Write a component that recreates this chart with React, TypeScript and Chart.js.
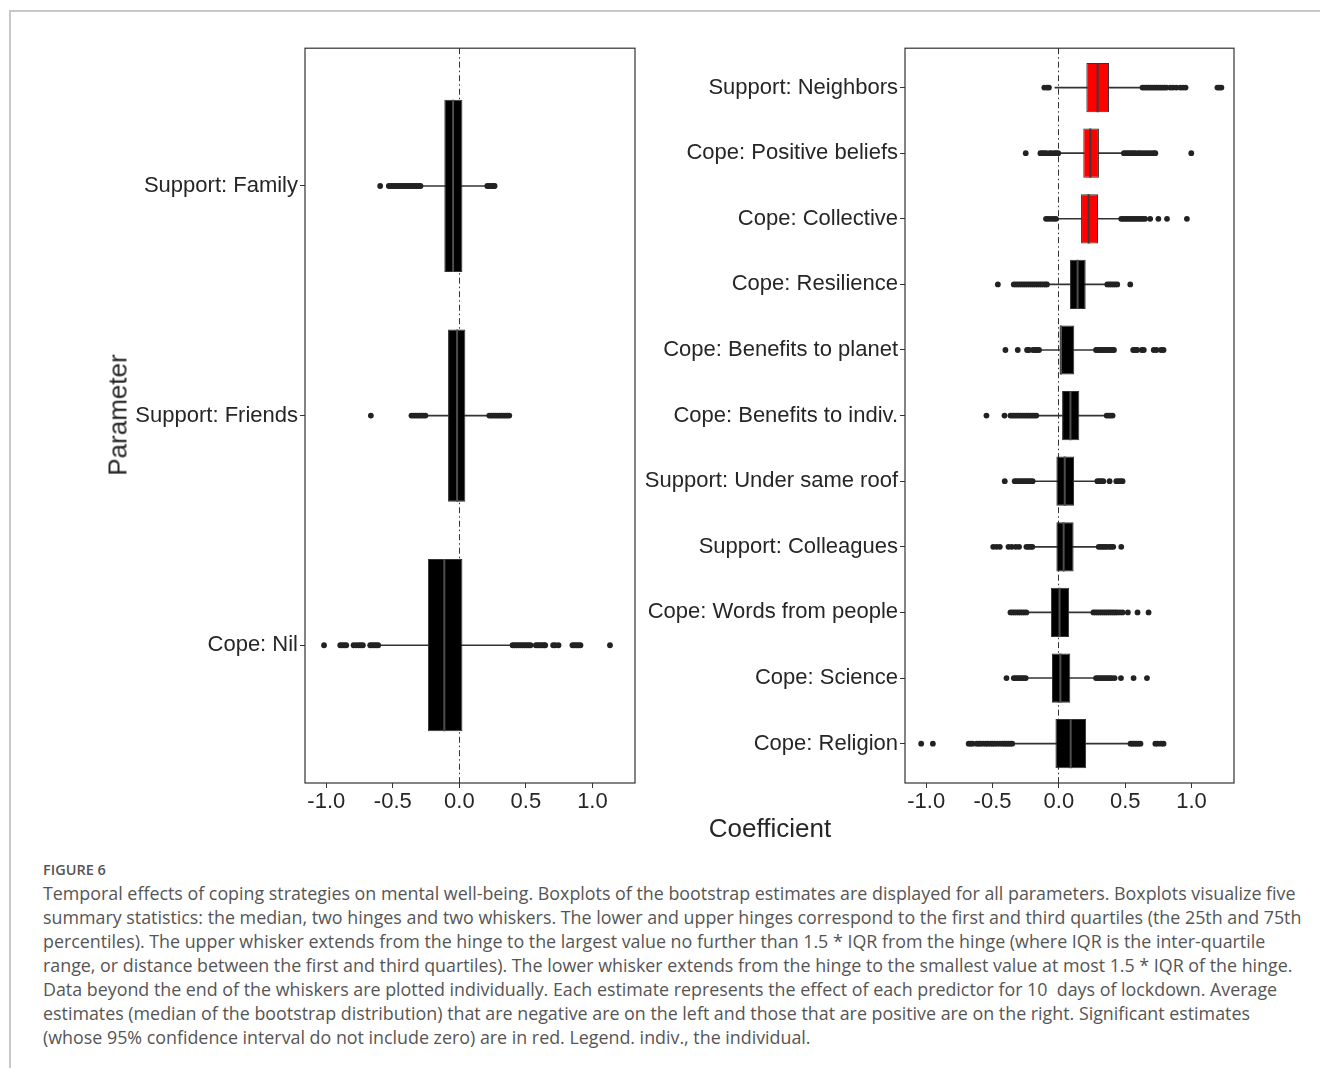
import React, { useEffect, useRef } from "react";
import { Chart, registerables } from "chart.js";

Chart.register(...registerables);

// ---------- data ----------
const xTickValues = [-1.0, -0.5, 0.0, 0.5, 1.0];
const xMin = -1.16;
const xMax = 1.32;

const leftCategories = ["Support: Family", "Support: Friends", "Cope: Nil"];
const leftQ1 = [-0.113, -0.085, -0.236];
const leftMedian = [-0.047, -0.017, -0.113];
const leftQ3 = [0.023, 0.045, 0.023];
const leftWhiskerLow = [-0.28, -0.24, -0.6];
const leftWhiskerHigh = [0.2, 0.21, 0.39];
const leftSignificant = [false, false, false];
const leftOutliers: number[][] = [
  [-0.595, -0.53, -0.515, -0.5, -0.485, -0.47, -0.455, -0.44, -0.425, -0.41, -0.395, -0.38, -0.365, -0.35, -0.335, -0.32, -0.305, -0.292, 0.21, 0.225, 0.24, 0.255, 0.265],
  [-0.665, -0.36, -0.345, -0.33, -0.315, -0.3, -0.285, -0.27, -0.255, 0.225, 0.24, 0.255, 0.27, 0.285, 0.3, 0.315, 0.33, 0.345, 0.36, 0.375],
  [-1.017, -0.895, -0.88, -0.865, -0.85, -0.795, -0.775, -0.755, -0.74, -0.725, -0.67, -0.655, -0.64, -0.625, -0.61, 0.4, 0.415, 0.43, 0.445, 0.46, 0.475, 0.49, 0.505, 0.52, 0.535, 0.575, 0.59, 0.605, 0.62, 0.635, 0.645, 0.705, 0.72, 0.745, 0.85, 0.865, 0.88, 0.895, 0.91, 1.132],
];

const rightCategories = [
  "Support: Neighbors",
  "Cope: Positive beliefs",
  "Cope: Collective",
  "Cope: Resilience",
  "Cope: Benefits to planet",
  "Cope: Benefits to indiv.",
  "Support: Under same roof",
  "Support: Colleagues",
  "Cope: Words from people",
  "Cope: Science",
  "Cope: Religion",
];
const rightQ1 = [0.207, 0.184, 0.167, 0.084, 0.005, 0.024, -0.019, -0.019, -0.06, -0.052, -0.026];
const rightMedian = [0.292, 0.237, 0.224, 0.141, 0.016, 0.087, 0.044, 0.036, 0.005, 0.011, 0.089];
const rightQ3 = [0.378, 0.302, 0.295, 0.202, 0.116, 0.154, 0.114, 0.111, 0.077, 0.086, 0.205];
const rightWhiskerLow = [-0.03, 0.01, -0.01, -0.08, -0.135, -0.16, -0.185, -0.19, -0.235, -0.235, -0.345];
const rightWhiskerHigh = [0.62, 0.475, 0.46, 0.355, 0.27, 0.35, 0.28, 0.29, 0.25, 0.27, 0.53];
const rightSignificant = [true, true, true, false, false, false, false, false, false, false, false];
const rightOutliers: number[][] = [
  [-0.11, -0.09, -0.075, 0.63, 0.645, 0.66, 0.675, 0.69, 0.705, 0.72, 0.735, 0.75, 0.765, 0.78, 0.795, 0.81, 0.84, 0.86, 0.885, 0.915, 0.935, 0.955, 1.195, 1.21, 1.225],
  [-0.25, -0.139, -0.125, -0.11, -0.095, -0.07, -0.055, -0.035, -0.02, -0.005, 0.49, 0.505, 0.52, 0.535, 0.55, 0.565, 0.58, 0.6, 0.615, 0.635, 0.655, 0.675, 0.695, 0.715, 0.727, 0.998],
  [-0.097, -0.08, -0.06, -0.04, -0.022, 0.47, 0.485, 0.5, 0.515, 0.53, 0.545, 0.56, 0.575, 0.59, 0.605, 0.62, 0.635, 0.65, 0.688, 0.75, 0.815, 0.965],
  [-0.46, -0.34, -0.325, -0.31, -0.295, -0.28, -0.265, -0.25, -0.235, -0.22, -0.205, -0.19, -0.175, -0.16, -0.145, -0.13, -0.115, -0.1, -0.09, 0.365, 0.38, 0.395, 0.41, 0.425, 0.44, 0.538],
  [-0.403, -0.31, -0.24, -0.225, -0.195, -0.18, -0.165, -0.15, 0.28, 0.295, 0.31, 0.325, 0.34, 0.355, 0.37, 0.385, 0.4, 0.415, 0.56, 0.575, 0.59, 0.625, 0.64, 0.715, 0.735, 0.77, 0.789],
  [-0.546, -0.41, -0.365, -0.35, -0.335, -0.32, -0.305, -0.29, -0.275, -0.26, -0.245, -0.23, -0.215, -0.2, -0.185, -0.17, 0.36, 0.375, 0.39, 0.405],
  [-0.408, -0.333, -0.318, -0.303, -0.288, -0.273, -0.258, -0.243, -0.228, -0.213, -0.198, 0.29, 0.305, 0.32, 0.335, 0.382, 0.433, 0.45, 0.465, 0.48],
  [-0.495, -0.47, -0.445, -0.38, -0.355, -0.325, -0.3, -0.245, -0.23, -0.215, -0.2, 0.3, 0.315, 0.33, 0.345, 0.36, 0.38, 0.395, 0.41, 0.47],
  [-0.365, -0.35, -0.335, -0.32, -0.305, -0.29, -0.275, -0.26, -0.245, 0.26, 0.275, 0.29, 0.305, 0.32, 0.335, 0.35, 0.365, 0.38, 0.395, 0.41, 0.425, 0.44, 0.46, 0.48, 0.52, 0.593, 0.676],
  [-0.395, -0.34, -0.325, -0.31, -0.295, -0.28, -0.265, -0.25, 0.28, 0.295, 0.31, 0.325, 0.34, 0.355, 0.37, 0.385, 0.4, 0.42, 0.468, 0.563, 0.664],
  [-1.038, -0.95, -0.68, -0.665, -0.65, -0.62, -0.605, -0.59, -0.57, -0.55, -0.535, -0.515, -0.5, -0.485, -0.465, -0.445, -0.425, -0.41, -0.395, -0.38, -0.365, -0.352, 0.54, 0.555, 0.57, 0.585, 0.6, 0.615, 0.727, 0.745, 0.77, 0.789],
];

const captionLines = [
  "Temporal effects of coping strategies on mental well-being. Boxplots of the bootstrap estimates are displayed for all parameters. Boxplots visualize five",
  "summary statistics: the median, two hinges and two whiskers. The lower and upper hinges correspond to the first and third quartiles (the 25th and 75th",
  "percentiles). The upper whisker extends from the hinge to the largest value no further than 1.5 * IQR from the hinge (where IQR is the inter-quartile",
  "range, or distance between the first and third quartiles). The lower whisker extends from the hinge to the smallest value at most 1.5 * IQR of the hinge.",
  "Data beyond the end of the whiskers are plotted individually. Each estimate represents the effect of each predictor for 10  days of lockdown. Average",
  "estimates (median of the bootstrap distribution) that are negative are on the left and those that are positive are on the right. Significant estimates",
  "(whose 95% confidence interval do not include zero) are in red. Legend. indiv., the individual.",
];

// ---------- styles ----------
const AXIS_FONT = '"Liberation Sans", Arial, Helvetica, sans-serif';
const TEXT_COLOR = "#262626";
const BOX_WIDTH = 0.75;

const framePlugin = {
  id: "panelFrame",
  afterDatasetsDraw(chart: any) {
    const { ctx, chartArea: a } = chart;
    ctx.save();
    ctx.strokeStyle = "#333333";
    ctx.lineWidth = 1.2;
    ctx.strokeRect(a.left, a.top, a.right - a.left, a.bottom - a.top);
    ctx.restore();
  },
};

type PanelProps = {
  categories: string[];
  q1: number[];
  median: number[];
  q3: number[];
  whiskerLow: number[];
  whiskerHigh: number[];
  outliers: number[][];
  significant: boolean[];
  left: number;
  top: number;
  width: number;
  height: number;
  axisWidth: number;
  padRight: number;
};

function BoxPanel(p: PanelProps) {
  const ref = useRef<HTMLCanvasElement | null>(null);
  useEffect(() => {
    const n = p.categories.length;
    const idx = p.categories.map((_, i) => i);
    const halfBox = (c: any) => {
      const y = c.chart.scales.y;
      return Math.abs(y.getPixelForValue(BOX_WIDTH / 2) - y.getPixelForValue(0));
    };
    const chart = new Chart(ref.current as HTMLCanvasElement, {
      type: "bar",
      data: {
        datasets: [
          {
            type: "scatter",
            data: p.outliers.flatMap((arr, i) => arr.map((v) => ({ x: v, y: i }))),
            pointRadius: 2.9,
            pointBackgroundColor: "#222222",
            pointBorderColor: "#222222",
            pointBorderWidth: 0,
            order: 0,
          } as any,
          {
            type: "scatter",
            data: idx.map((i) => ({ x: p.median[i], y: i })),
            pointStyle: "line",
            pointRotation: 90,
            pointRadius: halfBox,
            pointBorderColor: idx.map((i) => (p.significant[i] ? "#3a3a3a" : "#4d4d4d")),
            pointBorderWidth: 2,
            order: 1,
          } as any,
          {
            type: "bar",
            indexAxis: "y",
            data: idx.map((i) => ({ x: [p.q1[i], p.q3[i]], y: i })),
            backgroundColor: idx.map((i) => (p.significant[i] ? "#ff0000" : "#000000")),
            borderColor: "#333333",
            borderWidth: 1,
            borderSkipped: false,
            grouped: false,
            categoryPercentage: 1,
            barPercentage: BOX_WIDTH,
            order: 2,
          } as any,
          {
            type: "bar",
            indexAxis: "y",
            data: idx.map((i) => ({ x: [p.whiskerLow[i], p.whiskerHigh[i]], y: i })),
            backgroundColor: "#333333",
            borderWidth: 0,
            barThickness: 1,
            grouped: false,
            order: 3,
          } as any,
        ],
      },
      options: {
        responsive: false,
        animation: false,
        events: [],
        layout: { padding: { top: 0, right: p.padRight, left: 0, bottom: 0 } },
        plugins: { legend: { display: false }, tooltip: { enabled: false } },
        scales: {
          x: {
            type: "linear",
            min: xMin,
            max: xMax,
            offset: false,
            beginAtZero: false,
            afterBuildTicks: (ax: any) => {
              ax.ticks = xTickValues.map((v) => ({ value: v }));
            },
            afterFit: (ax: any) => {
              ax.height = 57;
            },
            ticks: {
              callback: (v: any) => Number(v).toFixed(1),
              color: TEXT_COLOR,
              font: { family: AXIS_FONT, size: 22 },
              padding: 1,
              maxRotation: 0,
              autoSkip: false,
            },
            grid: {
              offset: false,
              color: (c: any) => (c.tick && c.tick.value === 0 ? "#333333" : "rgba(0,0,0,0)"),
              lineWidth: 1,
              drawTicks: true,
              tickLength: 5,
              tickColor: "#333333",
              tickWidth: 1,
            },
            border: { display: false, dash: [6, 3, 1.5, 3] },
          },
          y: {
            type: "linear",
            reverse: true,
            min: -0.6,
            max: n - 0.4,
            offset: false,
            beginAtZero: false,
            afterBuildTicks: (ax: any) => {
              ax.ticks = idx.map((v) => ({ value: v }));
            },
            afterFit: (ax: any) => {
              ax.width = p.axisWidth;
            },
            ticks: {
              callback: (v: any) => p.categories[Math.round(Number(v))],
              color: TEXT_COLOR,
              font: { family: AXIS_FONT, size: 22 },
              padding: 2,
              autoSkip: false,
            },
            grid: {
              offset: false,
              drawOnChartArea: false,
              drawTicks: true,
              tickLength: 5,
              tickColor: "#333333",
              tickWidth: 1,
            },
            border: { display: false },
          },
        },
      } as any,
      plugins: [framePlugin],
    });
    return () => chart.destroy();
  }, []);
  return (
    <canvas
      ref={ref}
      width={p.width}
      height={p.height}
      style={{ position: "absolute", left: p.left, top: p.top, width: p.width, height: p.height }}
    />
  );
}

export default function App() {
  return (
    <div
      style={{
        position: "absolute",
        left: 0,
        top: 0,
        width: 1320,
        height: 1068,
        overflow: "hidden",
        background: "#ffffff",
      }}
    >
      <div
        style={{
          position: "absolute",
          left: 9,
          top: 10,
          width: 1320,
          height: 1100,
          borderTop: "2px solid #c8c8c8",
          borderLeft: "2px solid #c8c8c8",
        }}
      />
      <BoxPanel
        categories={leftCategories}
        q1={leftQ1}
        median={leftMedian}
        q3={leftQ3}
        whiskerLow={leftWhiskerLow}
        whiskerHigh={leftWhiskerHigh}
        outliers={leftOutliers}
        significant={leftSignificant}
        left={130}
        top={33}
        width={510}
        height={807}
        axisWidth={175}
        padRight={5}
      />
      <BoxPanel
        categories={rightCategories}
        q1={rightQ1}
        median={rightMedian}
        q3={rightQ3}
        whiskerLow={rightWhiskerLow}
        whiskerHigh={rightWhiskerHigh}
        outliers={rightOutliers}
        significant={rightSignificant}
        left={640}
        top={33}
        width={610}
        height={807}
        axisWidth={265}
        padRight={16}
      />
      <div
        style={{
          position: "absolute",
          left: 118,
          top: 415,
          transform: "translate(-50%, -50%) rotate(-90deg)",
          font: `26px ${AXIS_FONT}`,
          color: TEXT_COLOR,
          whiteSpace: "nowrap",
        }}
      >
        Parameter
      </div>
      <div
        style={{
          position: "absolute",
          left: 770,
          top: 828,
          transform: "translate(-50%, -50%)",
          font: `26px ${AXIS_FONT}`,
          color: TEXT_COLOR,
          whiteSpace: "nowrap",
        }}
      >
        Coefficient
      </div>
      <div
        style={{
          position: "absolute",
          left: 43,
          top: 861,
          fontFamily: '"Open Sans", "Noto Sans", sans-serif',
          fontSize: 14.5,
          fontWeight: 600,
          lineHeight: "18px",
          color: "#555555",
          whiteSpace: "nowrap",
        }}
      >
        FIGURE 6
      </div>
      <div
        style={{
          position: "absolute",
          left: 43,
          top: 881,
          fontFamily: '"Open Sans", "Noto Sans", sans-serif',
          fontSize: 17.85,
          lineHeight: "24px",
          color: "#555555",
          whiteSpace: "pre",
        }}
      >
        {captionLines.join("\n")}
      </div>
    </div>
  );
}
